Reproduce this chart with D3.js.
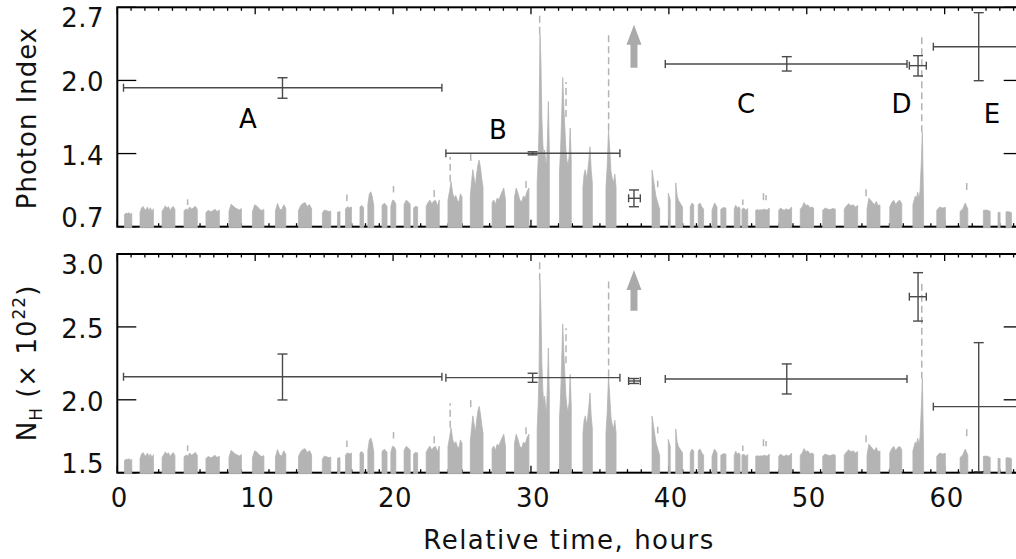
<!DOCTYPE html>
<html>
<head>
<meta charset="utf-8">
<script src="https://cdn.jsdelivr.net/npm/d3@7"></script>
<style>
  body { margin: 0; background: #fff; }
  svg { display: block; font-family: "DejaVu Sans ExtraLight", "DejaVu Sans", sans-serif; }
  .letter { font-family: "DejaVu Sans", sans-serif; }
</style>
</head>
<body>
<div id="chart"></div>
<script>
// light curve, one entry per orbit: [start (h), end (h), rates (% of panel height)]
const orbits = [
  [0.52, 1.05, [5.5, 6.2, 6.0, 6.4, 5.8, 6.1]],
  [1.65, 2.62, [6.5, 8.5, 9.2, 8.0, 7.6, 9.0, 7.2, 8.6, 6.8, 8.2]],
  [3.25, 4.18, [7.0, 8.2, 9.5, 8.4, 9.1, 7.3, 8.6, 9.2, 7.8]],
  [4.84, 5.80, [7.2, 8.1, 7.6, 9.0, 8.0, 8.6, 9.3, 7.9]],
  [6.43, 7.40, [6.4, 7.5, 6.8, 7.2, 8.0, 6.9, 7.6]],
  [8.10, 9.00, [7.0, 10.2, 9.4, 8.6, 8.1, 7.6, 8.3]],
  [9.80, 10.63, [6.8, 10.0, 9.3, 8.1, 7.4, 7.8]],
  [11.47, 12.22, [7.2, 10.6, 8.1, 7.6, 10.0, 8.4]],
  [13.14, 14.09, [7.4, 9.6, 10.6, 11.0, 9.2, 10.1, 8.2]],
  [14.87, 15.48, [6.2, 7.6, 7.3, 6.9, 7.1]],
  [15.97, 16.15, [6.6, 6.9]],
  [16.55, 16.98, [8.0, 9.1, 8.6, 9.0]],
  [17.60, 17.86, [9.0, 9.7, 8.6]],
  [18.17, 18.60, [10.0, 14.8, 15.9, 13.6, 9.4]],
  [19.20, 19.56, [9.8, 10.7, 9.2]],
  [19.84, 20.20, [9.3, 12.1, 11.8, 10.2]],
  [20.80, 21.24, [10.1, 12.0, 11.4, 10.3]],
  [21.49, 21.78, [8.6, 9.3, 9.0]],
  [22.40, 23.35, [9.2, 11.0, 12.1, 10.4, 11.6, 12.0, 9.6, 12.2]],
  [23.98, 25.00, [12.0, 16.0, 20.5, 15.2, 13.1, 14.2, 12.0, 11.2, 15.0, 13.4]],
  [25.60, 26.52, [14.0, 20.3, 26.0, 22.1, 18.4, 24.0, 28.2, 30.3, 27.0, 22.0, 18.1]],
  [27.18, 28.15, [11.0, 12.2, 10.1, 13.0, 12.3, 14.1, 16.0, 17.6, 12.0]],
  [28.80, 29.85, [13.2, 17.6, 15.1, 12.0, 11.3, 14.0, 13.1, 16.2, 17.6]],
  [30.45, 31.33, [20, 30, 45, 88, 75, 50, 38, 32, 35, 30, 28, 40, 57, 35]],
  [32.07, 32.92, [25, 35, 50, 68, 55, 45, 35, 30, 28, 32, 45, 30]],
  [33.77, 34.45, [18, 24, 26, 22, 25, 30, 36.4, 26, 20]],
  [35.44, 36.17, [18, 28, 44, 35, 25, 22, 20, 24, 18]],
  [38.78, 39.33, [25.8, 22, 18, 14, 12, 10, 8]],
  [39.96, 40.10, [15.2, 12]],
  [40.50, 40.99, [20.0, 14, 12, 11, 10, 9]],
  [41.55, 41.80, [9, 10.8, 10]],
  [42.13, 42.52, [10, 10.8, 9, 8]],
  [43.13, 43.49, [7.5, 10.8, 9]],
  [43.77, 44.14, [8, 8.7, 8.5]],
  [44.74, 45.16, [8, 9.8, 8.5, 9, 8.5]],
  [45.30, 45.72, [8, 8.5, 7.5, 8.3]],
  [46.30, 47.28, [7.5, 7.8, 7.5, 7.7, 7.6, 7.8, 8.0, 7.6, 7.7, 8.5]],
  [47.97, 48.90, [7.5, 8.5, 7.8, 7.5, 8.2, 7.6, 8.0, 9.0]],
  [49.53, 50.50, [8.0, 9.0, 11.0, 9.5, 10.0, 8.5, 9.0, 8.5]],
  [51.16, 52.07, [7.5, 8.5, 8.0, 7.8, 8.3, 8.0]],
  [52.72, 53.69, [8.0, 9.5, 10.5, 9.5, 10.0, 9.0, 9.7]],
  [54.37, 55.31, [8.0, 13.0, 12.0, 11.0, 10.0, 11.5, 9.5, 10.0]],
  [56.02, 56.89, [9.0, 11.0, 12.0, 10.0, 11.5, 12.0, 10.5]],
  [57.70, 58.47, [10.0, 12.0, 14.0, 13.0, 15.8, 13.0, 16.0, 28.0, 43.0, 10.0]],
  [59.43, 60.05, [7.5, 9.0, 8.5, 8.8]],
  [61.12, 61.68, [7.0, 8.0, 10.8, 8.0]],
  [62.81, 63.30, [7.5, 7.6, 7.0]],
  [63.87, 64.02, [6.5, 6.5]],
  [64.45, 64.84, [6.8, 6.8, 6.5]]
];

// isolated high bins drawn dashed: [time, low, high]
const spikes = [
  [5.1, 9.9, 12.5], [16.65, 11.7, 14.7], [20.03, 15.6, 18.6], [22.98, 13.5, 17.6],
  [24.14, 20.5, 31.8], [25.63, 30.0, 33.5], [29.64, 17.6, 22.5], [30.63, 88, 97],
  [32.54, 50, 66], [35.63, 44, 88], [39.19, 18, 21], [45.36, 9.9, 12.4],
  [46.86, 12.1, 15.9], [47.05, 12.1, 14.5], [54.3, 13.9, 17.6], [58.34, 43, 88],
  [61.6, 16.7, 20]
];

// spectral fits
const fitTime   = [11.98, 30.12, 37.47, 48.55, 58.07, 62.47];
const fitTimeLo = [0.45, 23.83, 37.08, 39.74, 57.44, 59.18];
const fitTimeHi = [23.54, 36.45, 37.93, 57.27, 58.67, 65.76];

const photonIndex = [1.967, 1.369, 0.959, 2.183, 2.168, 2.341];
const photonLo    = [1.871, 1.355, 0.882, 2.119, 2.074, 2.031];
const photonHi    = [2.058, 1.383, 1.035, 2.250, 2.259, 2.651];

const nH   = [2.158, 2.152, 2.129, 2.143, 2.707, 1.953];
const nHLo = [1.999, 2.120, 2.112, 2.040, 2.540, 1.507];
const nHHi = [2.314, 2.182, 2.146, 2.246, 2.872, 2.392];

const intervalNames = ['A', 'B', 'C', 'D', 'E'];
const intervalTime  = [9.48, 27.6, 45.6, 56.88, 63.43];
const intervalPI    = [1.597, 1.497, 1.739, 1.739, 1.643];

const xTicks = [0, 10, 20, 30, 40, 50, 60];
const piTicks = [0.7, 1.3667, 2.0333, 2.7];
const piTickLabels = ['0.7', '1.4', '2.0', '2.7'];
const nhTicks = [1.5, 2.0, 2.5, 3.0];
const nhTickLabels = ['1.5', '2.0', '2.5', '3.0'];

const arrowTime = 37.47;
const arrowPI = [2.15, 2.54];
const arrowNH = [2.61, 2.89];

const width = 1016, height = 559;
const grey = '#b4b4b4';
const barColor = '#4a4a4a';

const svg = d3.select('#chart').append('svg')
  .attr('width', width)
  .attr('height', height);

const x = d3.scaleLinear().domain([0, 65.66]).range([117.3, 1022.7]);

const panels = [
  { range: [226.7, 7.3], domain: [0.7, 2.7], ticks: piTicks, labels: piTickLabels,
    val: photonIndex, lo: photonLo, hi: photonHi, arrow: arrowPI, bottomLabels: false },
  { range: [472.7, 254], domain: [1.5, 3.0], ticks: nhTicks, labels: nhTickLabels,
    val: nH, lo: nHLo, hi: nHHi, arrow: arrowNH, bottomLabels: true }
];

panels.forEach((p, pi) => {
  const y = d3.scaleLinear().domain(p.domain).range(p.range);
  const rate = d3.scaleLinear().domain([0, 100]).range(p.range);
  const g = svg.append('g');
  const [yb, yt] = p.range;

  // frame
  g.append('rect')
    .attr('x', x.range()[0]).attr('y', yt)
    .attr('width', x.range()[1] - x.range()[0]).attr('height', yb - yt)
    .attr('fill', 'none').attr('stroke', '#000').attr('stroke-width', 2);

  // x ticks, top and bottom, pointing inward
  const minor = d3.range(0, 66, 1).filter(v => v % 10 !== 0);
  const xt = g.append('g').attr('stroke', '#000').attr('stroke-width', 1.3);
  [[yb, -1], [yt, 1]].forEach(([y0, dir]) => {
    xTicks.forEach(v => xt.append('line')
      .attr('x1', x(v)).attr('x2', x(v)).attr('y1', y0).attr('y2', y0 + dir * 7));
    minor.forEach(v => xt.append('line')
      .attr('x1', x(v)).attr('x2', x(v)).attr('y1', y0).attr('y2', y0 + dir * 3.5));
  });

  // y ticks, left and right
  p.ticks.forEach(v => {
    xt.append('line').attr('x1', x.range()[0]).attr('x2', x.range()[0] + 19)
      .attr('y1', y(v)).attr('y2', y(v));
    xt.append('line').attr('x1', x.range()[1] - 19).attr('x2', x.range()[1])
      .attr('y1', y(v)).attr('y2', y(v));
  });

  // light curve, drawn over the lower axis line like the original
  const area = d3.area()
    .x(d => x(d[0]))
    .y0(rate(0) + 1)
    .y1(d => rate(d[1]));

  orbits.forEach(o => {
    const [t0, t1, vals] = o;
    const step = vals.length > 1 ? (t1 - t0) / (vals.length - 1) : 0;
    const pts = vals.map((v, i) => [t0 + i * step, v]);
    g.append('path')
      .attr('d', area(pts))
      .attr('fill', grey)
      .attr('stroke', grey)
      .attr('stroke-width', 0.8);
  });

  g.selectAll('.spike')
    .data(spikes)
    .enter()
    .append('line')
    .attr('x1', d => x(d[0]))
    .attr('x2', d => x(d[0]))
    .attr('y1', d => rate(d[1]))
    .attr('y2', d => rate(d[2]))
    .attr('stroke', grey)
    .attr('stroke-width', 1.5)
    .attr('stroke-dasharray', '7,4');

  // y tick labels
  const offs = [0, 11, 11, 20];
  g.selectAll('.ylab')
    .data(p.labels)
    .enter()
    .append('text')
    .attr('x', 104)
    .attr('y', (d, i) => y(p.ticks[i]) + offs[i])
    .attr('text-anchor', 'end')
    .attr('font-size', 26)
    .attr('letter-spacing', 0.5)
    .attr('fill', '#111')
    .text(d => d);

  if (p.bottomLabels) {
    g.selectAll('.xlab')
      .data(xTicks)
      .enter()
      .append('text')
      .attr('x', d => x(d) + 2)
      .attr('y', 507)
      .attr('text-anchor', 'middle')
      .attr('font-size', 26)
      .attr('letter-spacing', 0.5)
      .attr('fill', '#111')
      .text(d => d);
  }

  // error bars
  const eb = g.append('g').attr('stroke', barColor).attr('stroke-width', 1.4).attr('fill', 'none');
  fitTime.forEach((t, i) => {
    const cy = y(p.val[i]);
    eb.append('line').attr('x1', x(fitTimeLo[i])).attr('x2', x(fitTimeHi[i])).attr('y1', cy).attr('y2', cy);
    [fitTimeLo[i], fitTimeHi[i]].forEach(e => eb.append('line')
      .attr('x1', x(e)).attr('x2', x(e)).attr('y1', cy - 4).attr('y2', cy + 4));
    eb.append('line').attr('x1', x(t)).attr('x2', x(t)).attr('y1', y(p.lo[i])).attr('y2', y(p.hi[i]));
    [p.lo[i], p.hi[i]].forEach(e => eb.append('line')
      .attr('x1', x(t) - 5).attr('x2', x(t) + 5).attr('y1', y(e)).attr('y2', y(e)));
  });

  // arrow
  const ax = x(arrowTime), ab = y(p.arrow[0]), at = y(p.arrow[1]);
  g.append('path')
    .attr('d', `M${ax - 3.5},${ab} L${ax - 3.5},${at + 20} L${ax - 7.5},${at + 20} L${ax},${at} ` +
      `L${ax + 7.5},${at + 20} L${ax + 3.5},${at + 20} L${ax + 3.5},${ab} Z`)
    .attr('fill', '#aaa');

  if (pi === 0) {
    g.selectAll('.iname')
      .data(intervalNames)
      .enter()
      .append('text')
      .attr('class', 'letter')
      .attr('x', (d, i) => x(intervalTime[i]))
      .attr('y', (d, i) => y(intervalPI[i]))
      .attr('text-anchor', 'middle')
      .attr('font-size', 26)
      .attr('fill', '#000')
      .text(d => d);
  }
});

// axis titles
svg.append('text')
  .attr('transform', 'translate(36,118) rotate(-90)')
  .attr('text-anchor', 'middle')
  .attr('font-size', 26)
  .attr('letter-spacing', 1)
  .attr('fill', '#111')
  .text('Photon Index');

const nhTitle = svg.append('text')
  .attr('transform', 'translate(36,363) rotate(-90)')
  .attr('text-anchor', 'middle')
  .attr('font-size', 26)
  .attr('letter-spacing', 1)
  .attr('fill', '#111');
nhTitle.append('tspan').text('N');
nhTitle.append('tspan').attr('font-size', 17).attr('dy', 6).text('H');
nhTitle.append('tspan').attr('dy', -6).text(' (\u00d7 10');
nhTitle.append('tspan').attr('font-size', 17).attr('dy', -11).text('22');
nhTitle.append('tspan').attr('dy', 11).text(')');

svg.append('text')
  .attr('x', 569)
  .attr('y', 549)
  .attr('text-anchor', 'middle')
  .attr('font-size', 26)
  .attr('letter-spacing', 1.5)
  .attr('fill', '#111')
  .text('Relative time, hours');
</script>
</body>
</html>
